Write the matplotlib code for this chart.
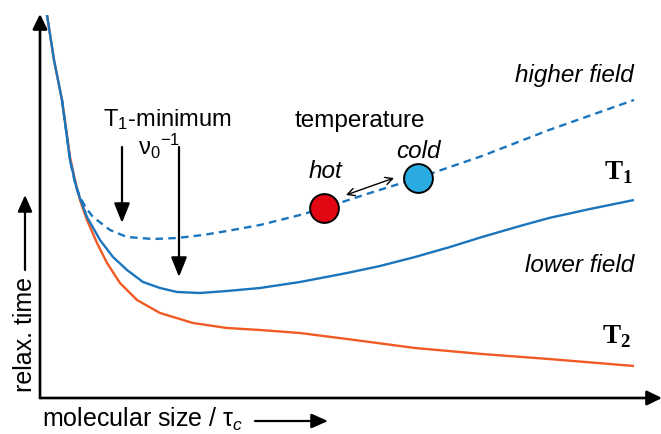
import matplotlib.pyplot as plt

plt.rcParams["font.family"] = ["Liberation Sans", "DejaVu Sans"]
plt.rcParams["mathtext.fontset"] = "custom"
plt.rcParams["mathtext.rm"] = "Liberation Sans"
plt.rcParams["mathtext.it"] = "Liberation Sans:italic"
plt.rcParams["mathtext.bf"] = "Liberation Serif:bold"

# values (arbitrary units, origin at the axes corner)
t1_low_x = [7, 14, 22, 26, 30, 37, 47, 60, 73, 87, 103, 120, 137, 160, 187, 220, 260,
            307, 340, 375, 410, 442, 480, 509, 550, 594]
t1_low_y = [383, 338, 298, 268, 238, 208, 181, 158, 141, 128, 116, 110, 106, 105, 107, 110, 116,
            125, 132, 141, 151, 161, 172, 180, 189, 198]

t1_high_x = [22, 26, 30, 35, 40, 46, 53, 70, 87, 113, 137, 163, 187, 220, 240, 260, 284,
             330, 378, 442, 509, 594]
t1_high_y = [298, 268, 238, 215, 201, 190, 181, 168, 161, 159, 160, 163, 167, 173, 178, 183, 190,
             205, 220, 242, 268, 298]

t2_x = [7, 14, 22, 26, 30, 35, 40, 47, 57, 67, 80, 97, 120, 153, 187, 220, 260, 307,
        375, 442, 509, 594]
t2_y = [383, 338, 298, 270, 241, 218, 198, 178, 155, 135, 115, 98, 85, 75, 70, 68, 65, 59,
        50, 44, 39, 32]

hot_xy = (284, 190)
cold_xy = (378, 220)

blue = "#1b75bc"
orange = "#f15a24"

fig = plt.figure(figsize=(6.61, 4.34), dpi=100)
ax = fig.add_axes([40 / 661, 36 / 434, 621 / 661, 383 / 434])
ax.set_xlim(0, 621)
ax.set_ylim(0, 383)
ax.axis("off")


def arrow(tail, tip, style="-|>,head_width=0.24,head_length=0.6", lw=1.6, ms=20):
    ax.annotate("", xy=tip, xytext=tail, annotation_clip=False,
                arrowprops=dict(arrowstyle=style, lw=lw, color="black",
                                mutation_scale=ms, shrinkA=0, shrinkB=0))


# axes as arrows
axis_style = "-|>,head_width=0.22,head_length=0.45"
arrow((0, 0), (0, 384), axis_style, lw=1.9)
arrow((0, 0), (622, 0), axis_style, lw=1.9)

ax.plot(t2_x, t2_y, color=orange, lw=1.7, solid_capstyle="butt", solid_joinstyle="round")
ax.plot(t1_low_x, t1_low_y, color=blue, lw=1.7, solid_capstyle="butt", solid_joinstyle="round")
ax.plot(t1_high_x, t1_high_y, color=blue, lw=1.7, linestyle=(0, (3.2, 2.2)))

ax.scatter(*hot_xy, s=430, color="#e30613", edgecolor="black", linewidth=1.4, zorder=5)
ax.scatter(*cold_xy, s=430, color="#29abe2", edgecolor="black", linewidth=1.4, zorder=5)

# minimum markers
arrow((82, 251), (82, 175))
arrow((139, 251), (139, 121))
arrow((306, 203), (354, 220), "<->,head_width=0.18,head_length=0.35", lw=1.0, ms=15)

fs = 17.5
ax.text(127, 272, "T$_1$-minimum", fontsize=17, ha="center", va="baseline")
ax.text(98, 243, "ν$_0{}^{-1}$", fontsize=17, ha="left", va="baseline")
ax.text(320, 271, "temperature", fontsize=fs, ha="center", va="baseline")
ax.text(285, 220, "hot", fontsize=fs, style="italic", ha="center", va="baseline")
ax.text(378, 240, "cold", fontsize=fs, style="italic", ha="center", va="baseline")
ax.text(594, 316, "higher field", fontsize=fs, style="italic", ha="right", va="baseline")
ax.text(594, 126, "lower field", fontsize=fs, style="italic", ha="right", va="baseline")
ax.text(593, 218, r"$\mathbf{T}_\mathbf{1}$", fontsize=19.5, ha="right", va="baseline")
ax.text(591, 55, r"$\mathbf{T}_\mathbf{2}$", fontsize=19.5, ha="right", va="baseline")

# axis titles with arrows
ax.text(2, -29, "molecular size / τ$_c$", fontsize=18, ha="left", va="baseline", clip_on=False)
arrow((215, -23), (288, -23), "-|>,head_width=0.22,head_length=0.5", lw=1.6)
ax.text(-15, 63, "relax. time", fontsize=18, rotation=90, ha="center", va="center", clip_on=False)
arrow((-15, 128), (-15, 203), "-|>,head_width=0.22,head_length=0.5", lw=1.6)

fig.savefig("out.png", dpi=100)
